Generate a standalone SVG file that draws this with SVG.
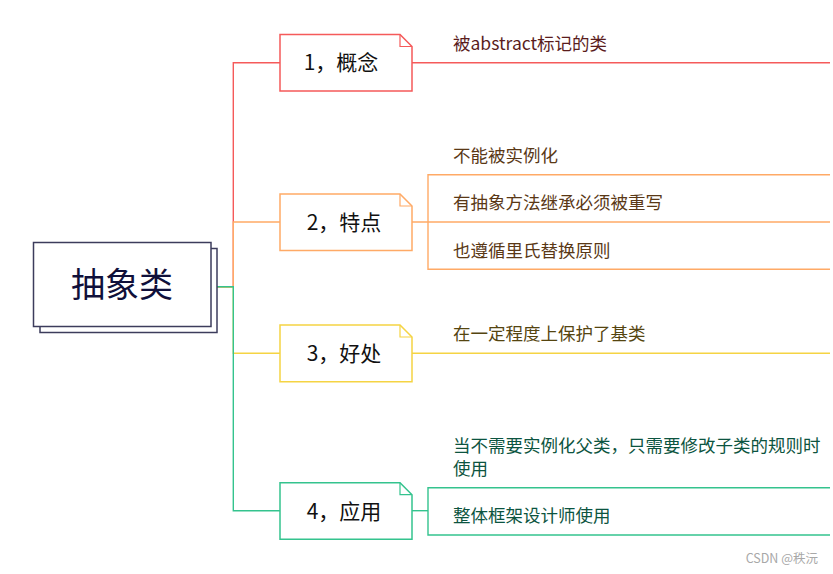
<svg xmlns="http://www.w3.org/2000/svg" width="833" height="574" viewBox="0 0 833 574">
<style>
  text { font-family: "Microsoft YaHei", "Noto Sans CJK SC", "Noto Sans", sans-serif; }
  .root { fill: #fff; stroke: #3c3c5c; stroke-width: 1.5; }
  .rootText { font-size: 34px; fill: #10103a; text-anchor: middle; }
  .box { fill: #fff; stroke-width: 1.5; }
  .fold { fill: none; stroke-width: 1.2; }
  .label { font-size: 21px; fill: #111; text-anchor: middle; }
  .leaf { font-size: 17.5px; }
  .ln { fill: none; stroke-width: 1.4; }
  .red { stroke: #f55a5a; }
  .orange { stroke: #ffaa66; }
  .yellow { stroke: #f5d443; }
  .green { stroke: #34c38e; }
  .tRed { fill: #5a1c1c; }
  .tOrange { fill: #5a3816; }
  .tYellow { fill: #554510; }
  .tGreen { fill: #0c5440; }
  .wm { font-size: 12.5px; fill: #a8a8a8; text-anchor: end; }
</style>

<g id="connectors">
  <path class="ln red" d="M217,286.7 H233.3 V62.7 H280"/>
  <path class="ln orange" d="M217,286.7 H233.3 V222 H280"/>
  <path class="ln yellow" d="M217,286.7 H233.3 V353.3 H280"/>
  <path class="ln green" d="M217,286.7 H233.3 V510.7 H280"/>
  <path class="ln red" d="M412,62.7 H830"/>
  <path class="ln orange" d="M412,222 H830"/>
  <path class="ln orange" d="M830,174.7 H428 V269.3 H830"/>
  <path class="ln yellow" d="M412,353.3 H830"/>
  <path class="ln green" d="M412,510.7 H428"/>
  <path class="ln green" d="M830,487.7 H428 V535 H830"/>
</g>

<g id="root">
  <rect class="root" x="40" y="248.5" width="177" height="84"/>
  <rect class="root" x="33.5" y="242.5" width="177.5" height="84"/>
  <text class="rootText" x="122" y="296.5">抽象类</text>
</g>

<g id="node1">
  <path class="box red" d="M280,34.5 H400 L412,46.5 V91 H280 Z"/>
  <path class="fold red" d="M400,34.5 V46.5 H412"/>
  <text class="label" x="341" y="70">1，概念</text>
</g>
<g id="node1-child">
  <text class="leaf tRed" x="453" y="50">被abstract标记的类</text>
</g>

<g id="node2">
  <path class="box orange" d="M280,194 H400 L412,206 V250.5 H280 Z"/>
  <path class="fold orange" d="M400,194 V206 H412"/>
  <text class="label" x="344" y="229.5">2，特点</text>
</g>
<g id="node2-child1"><text class="leaf tOrange" x="453" y="162">不能被实例化</text></g>
<g id="node2-child2"><text class="leaf tOrange" x="453" y="209">有抽象方法继承必须被重写</text></g>
<g id="node2-child3"><text class="leaf tOrange" x="453" y="256.5">也遵循里氏替换原则</text></g>

<g id="node3">
  <path class="box yellow" d="M280,325 H400 L412,337 V381.7 H280 Z"/>
  <path class="fold yellow" d="M400,325 V337 H412"/>
  <text class="label" x="344" y="361">3，好处</text>
</g>
<g id="node3-child"><text class="leaf tYellow" x="453" y="340">在一定程度上保护了基类</text></g>

<g id="node4">
  <path class="box green" d="M280,482.7 H400 L412,494.7 V539.3 H280 Z"/>
  <path class="fold green" d="M400,482.7 V494.7 H412"/>
  <text class="label" x="344" y="518.5">4，应用</text>
</g>
<g id="node4-child1">
  <text class="leaf tGreen" x="453" y="451.5">当不需要实例化父类，只需要修改子类的规则时</text>
  <text class="leaf tGreen" x="453" y="474.5">使用</text>
</g>
<g id="node4-child2"><text class="leaf tGreen" x="453" y="521.5">整体框架设计师使用</text></g>

<text class="wm" x="818" y="563">CSDN @秩沅</text>
</svg>
